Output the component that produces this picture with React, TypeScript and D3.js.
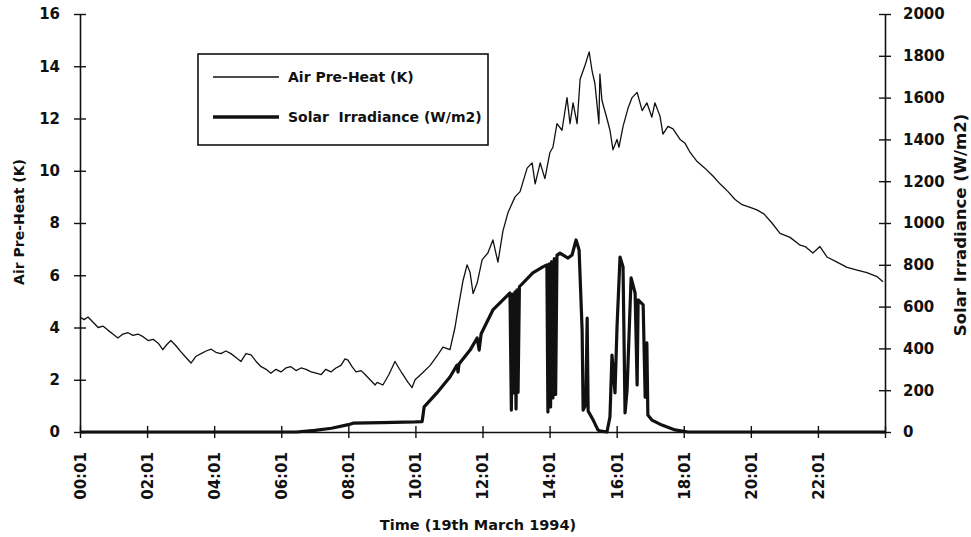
import * as d3 from 'd3';
import { useEffect, useRef } from 'react';

// hours after 00:01, value
const airPreHeat: [number, number][] = [
  [0, 4.4], [0.12, 4.3], [0.24, 4.4], [0.39, 4.2], [0.54, 4.0], [0.69, 4.05], [0.83, 3.9],
  [0.98, 3.75], [1.13, 3.6], [1.28, 3.75], [1.43, 3.8], [1.58, 3.7], [1.73, 3.75], [1.88, 3.65],
  [2.03, 3.5], [2.18, 3.55], [2.33, 3.4], [2.47, 3.15], [2.59, 3.35], [2.71, 3.5], [2.86, 3.3],
  [3.01, 3.07], [3.16, 2.85], [3.31, 2.64], [3.46, 2.9], [3.61, 3.0], [3.76, 3.1], [3.91, 3.17],
  [4.05, 3.05], [4.2, 3.0], [4.35, 3.1], [4.5, 3.0], [4.65, 2.85], [4.8, 2.7], [4.95, 3.0],
  [5.1, 2.95], [5.25, 2.7], [5.4, 2.5], [5.55, 2.4], [5.69, 2.25], [5.84, 2.4], [5.99, 2.3],
  [6.14, 2.45], [6.29, 2.5], [6.44, 2.35], [6.59, 2.45], [6.74, 2.4], [6.89, 2.3], [7.04, 2.25],
  [7.19, 2.2], [7.33, 2.4], [7.48, 2.3], [7.63, 2.45], [7.78, 2.55], [7.9, 2.8], [7.99, 2.75],
  [8.11, 2.5], [8.23, 2.3], [8.38, 2.35], [8.5, 2.2], [8.65, 2.0], [8.8, 1.8], [8.86, 1.9],
  [9.03, 1.8], [9.21, 2.2], [9.39, 2.7], [9.6, 2.25], [9.78, 1.9], [9.9, 1.7], [9.99, 2.0],
  [10.2, 2.25], [10.44, 2.55], [10.64, 2.9], [10.82, 3.25], [11.03, 3.15], [11.18, 4.0],
  [11.27, 4.7], [11.42, 5.8], [11.54, 6.4], [11.63, 6.1], [11.72, 5.3], [11.84, 5.7],
  [11.99, 6.6], [12.16, 6.85], [12.31, 7.35], [12.46, 6.5], [12.61, 7.7], [12.76, 8.4],
  [12.97, 9.0], [13.12, 9.2], [13.33, 10.1], [13.48, 10.3], [13.57, 9.5], [13.72, 10.3],
  [13.86, 9.7], [14.01, 10.7], [14.1, 10.9], [14.22, 11.8], [14.37, 11.55], [14.52, 12.8],
  [14.61, 11.8], [14.7, 12.6], [14.82, 11.8], [14.91, 13.5], [15.06, 14.05], [15.18, 14.55],
  [15.27, 13.8], [15.35, 13.35], [15.41, 12.6], [15.47, 11.8], [15.5, 13.7], [15.56, 12.7],
  [15.71, 12.0], [15.8, 11.55], [15.89, 10.8], [16.01, 11.2], [16.07, 10.9], [16.19, 11.7],
  [16.34, 12.4], [16.46, 12.8], [16.61, 13.0], [16.76, 12.3], [16.9, 12.6], [17.05, 12.05],
  [17.14, 12.6], [17.29, 12.1], [17.38, 11.4], [17.53, 11.7], [17.68, 11.6], [17.89, 11.2],
  [18.04, 11.05], [18.19, 10.7], [18.4, 10.35], [18.63, 10.1], [18.87, 9.8], [19.08, 9.5],
  [19.32, 9.2], [19.53, 8.9], [19.74, 8.7], [19.98, 8.6], [20.18, 8.5], [20.39, 8.35],
  [20.63, 8.0], [20.87, 7.6], [21.17, 7.45], [21.47, 7.15], [21.62, 7.1], [21.85, 6.85],
  [22.06, 7.1], [22.27, 6.7], [22.57, 6.5], [22.87, 6.3], [23.17, 6.2], [23.46, 6.1],
  [23.76, 5.95], [23.94, 5.75],
];

const solarIrradiance: [number, number][] = [
  [0, 0], [6.45, 0], [7.0, 8], [7.5, 18], [8.0, 35], [8.14, 42], [9.0, 45], [10.0, 48],
  [10.2, 50], [10.26, 120], [10.64, 187], [11.03, 263], [11.24, 320], [11.27, 287],
  [11.3, 325], [11.63, 392], [11.84, 450], [11.9, 392], [11.96, 470], [12.31, 584],
  [12.61, 632], [12.82, 665], [12.86, 105], [12.9, 660], [12.93, 187], [12.97, 670],
  [13.0, 110], [13.03, 680], [13.06, 190], [13.1, 695], [13.5, 761], [13.8, 790],
  [13.92, 800], [13.95, 96], [13.99, 805], [14.03, 120], [14.06, 815], [14.1, 163],
  [14.14, 830], [14.18, 180], [14.22, 845], [14.31, 856], [14.55, 832], [14.67, 847],
  [14.79, 919], [14.88, 871], [14.97, 488], [15.0, 105], [15.08, 130], [15.12, 545],
  [15.15, 100], [15.3, 57], [15.44, 10], [15.5, 5], [15.71, 0], [15.8, 72], [15.86, 368],
  [15.92, 250], [15.95, 187], [16.01, 500], [16.1, 837], [16.19, 790], [16.25, 91],
  [16.31, 200], [16.43, 737], [16.55, 665], [16.61, 225], [16.64, 632], [16.79, 608],
  [16.85, 167], [16.9, 426], [16.93, 81], [17.05, 57], [17.35, 33], [17.74, 10],
  [18.13, 0], [24, 0],
];

const timeTicks = [0, 2, 4, 6, 8, 10, 12, 14, 16, 18, 20, 22, 24];
const timeLabels = ['00:01', '02:01', '04:01', '06:01', '08:01', '10:01', '12:01', '14:01',
  '16:01', '18:01', '20:01', '22:01', ''];
const leftTicks = [0, 2, 4, 6, 8, 10, 12, 14, 16];
const rightTicks = [0, 200, 400, 600, 800, 1000, 1200, 1400, 1600, 1800, 2000];

const FONT = '"DejaVu Sans", sans-serif';

const App = () => {
  const ref = useRef<SVGSVGElement>(null);

  useEffect(() => {
    const svg = d3.select(ref.current);
    svg.selectAll('*').remove();

    const left = 80, right = 885, top = 14, bottom = 432;
    const x = d3.scaleLinear().domain([0, 24]).range([left, right]);
    const yL = d3.scaleLinear().domain([0, 16]).range([bottom, top]);
    const yR = d3.scaleLinear().domain([0, 2000]).range([bottom, top]);

    const styleAxis = (g: any) => {
      g.attr('font-family', FONT).attr('font-size', 15).attr('font-weight', 'bold');
      g.select('.domain').attr('stroke', '#111').attr('stroke-width', 1.6);
      g.selectAll('.tick line').attr('stroke', '#111').attr('stroke-width', 1.4);
      g.selectAll('.tick text').attr('fill', '#111');
    };

    // left axis
    const gl = svg.append('g').attr('transform', `translate(${left},0)`)
      .call(d3.axisLeft(yL).tickValues(leftTicks).tickSizeInner(6).tickSizeOuter(0).tickPadding(14));
    styleAxis(gl);
    gl.selectAll('.tick line').attr('x1', -6).attr('x2', 6);

    // right axis
    const gr = svg.append('g').attr('transform', `translate(${right},0)`)
      .call(d3.axisRight(yR).tickValues(rightTicks).tickFormat(d3.format('d'))
        .tickSizeInner(6).tickSizeOuter(0).tickPadding(12));
    styleAxis(gr);
    gr.selectAll('.tick line').attr('x1', -6).attr('x2', 6);

    // bottom axis
    const gb = svg.append('g').attr('transform', `translate(0,${bottom})`)
      .call(d3.axisBottom(x).tickValues(timeTicks).tickSizeInner(6).tickSizeOuter(0)
        .tickFormat((d, i) => timeLabels[i]));
    styleAxis(gb);
    gb.selectAll('.tick line').attr('y1', -6).attr('y2', 6);
    gb.selectAll('.tick text')
      .attr('transform', 'rotate(-90)')
      .attr('x', -20)
      .attr('y', 0)
      .attr('dy', '0.36em')
      .attr('text-anchor', 'end');

    // series
    const airLine = d3.line<[number, number]>().x(d => x(d[0])).y(d => yL(d[1]));
    const solarLine = d3.line<[number, number]>().x(d => x(d[0])).y(d => yR(d[1]));

    svg.append('path').datum(solarIrradiance)
      .attr('d', solarLine)
      .attr('fill', 'none')
      .attr('stroke', '#111')
      .attr('stroke-width', 3.2)
      .attr('stroke-linejoin', 'round');

    svg.append('path').datum(airPreHeat)
      .attr('d', airLine)
      .attr('fill', 'none')
      .attr('stroke', '#111')
      .attr('stroke-width', 1.3)
      .attr('stroke-linejoin', 'round');

    // axis titles
    const title = svg.append('g').attr('font-family', FONT).attr('font-weight', 'bold').attr('fill', '#111');
    title.append('text')
      .attr('x', 478).attr('y', 530)
      .attr('text-anchor', 'middle').attr('font-size', 14.5)
      .text('Time (19th March 1994)');
    title.append('text')
      .attr('transform', 'translate(24,222) rotate(-90)')
      .attr('text-anchor', 'middle').attr('font-size', 14)
      .text('Air Pre-Heat (K)');
    title.append('text')
      .attr('transform', 'translate(966,225) rotate(-90)')
      .attr('text-anchor', 'middle').attr('font-size', 16.5)
      .text('Solar Irradiance (W/m2)');

    // legend
    const lg = svg.append('g').attr('font-family', FONT).attr('font-weight', 'bold').attr('font-size', 14);
    lg.append('rect')
      .attr('x', 198).attr('y', 54).attr('width', 290).attr('height', 91)
      .attr('fill', 'white').attr('stroke', '#111').attr('stroke-width', 1.6);
    const items = [
      { label: 'Air Pre-Heat (K)', width: 1.3, y: 77 },
      { label: 'Solar  Irradiance (W/m2)', width: 3.5, y: 117 },
    ];
    const row = lg.selectAll('g.item').data(items).enter().append('g')
      .attr('transform', d => `translate(0,${d.y})`);
    row.append('line')
      .attr('x1', 213).attr('x2', 279)
      .attr('stroke', '#111').attr('stroke-width', d => d.width);
    row.append('text')
      .attr('x', 288).attr('dy', '0.36em').attr('fill', '#111')
      .style('white-space', 'pre')
      .text(d => d.label);
  }, []);

  return (
    <svg ref={ref} width={971} height={537}
      style={{ position: 'absolute', left: 0, top: 0, background: 'white' }} />
  );
};

export default App;
